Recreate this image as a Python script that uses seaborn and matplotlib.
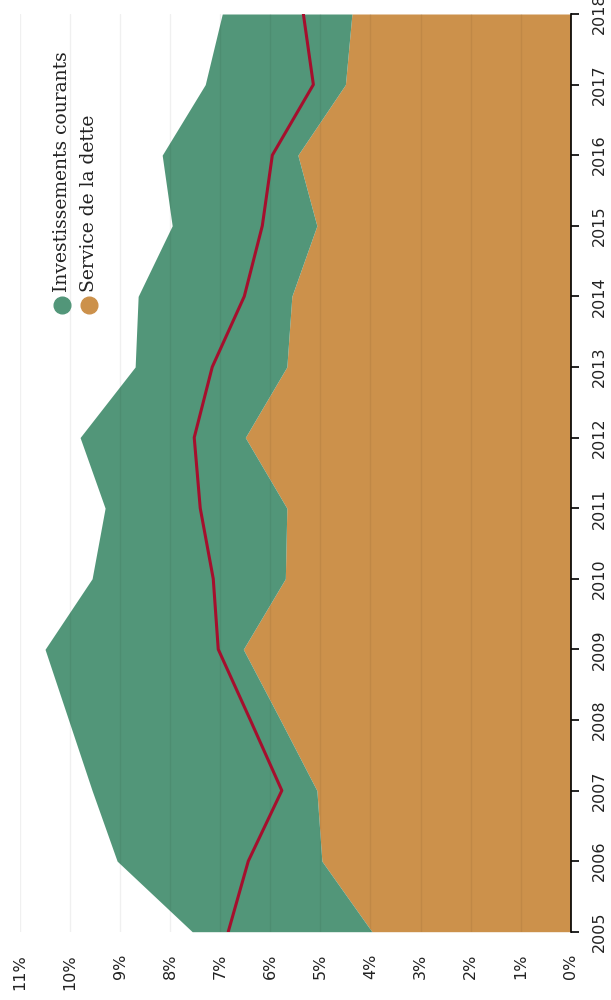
import numpy as np
import seaborn as sns
import matplotlib.pyplot as plt
from matplotlib.lines import Line2D

## Data (values in %)...
years = [2005, 2006, 2007, 2008, 2009, 2010, 2011, 2012, 2013, 2014, 2015, 2016, 2017, 2018]
service_dette = [3.97, 4.97, 5.07, 5.80, 6.54, 5.70, 5.67, 6.50, 5.67, 5.57, 5.07, 5.45, 4.50, 4.37]
invest_courants = [3.59, 4.09, 4.49, 4.23, 3.96, 3.86, 3.63, 3.30, 3.03, 3.07, 2.89, 2.71, 2.80, 2.59]
ligne_rouge = [6.84, 6.44, 5.77, 6.40, 7.04, 7.14, 7.40, 7.52, 7.16, 6.52, 6.16, 5.96, 5.14, 5.34]
pct_ticks = list(range(0, 12))

green = "#529679"
orange = "#cc914b"
red = "#a50f2d"

sns.set_theme(style="white")
plt.rcParams['font.family'] = ['DejaVu Sans']

fig = plt.figure(figsize=(6.11, 10), dpi=100)
W, H = 611, 1000
ax = fig.add_axes([20 / W, 1 - 931.7 / H, (570.7 - 20) / W, (931.7 - 14) / H])

## Stacked areas, drawn sideways (years on the vertical axis)...
base = np.zeros(len(years))
top1 = base + np.array(service_dette)
top2 = top1 + np.array(invest_courants)
ax.fill_betweenx(years, base, top1, color=orange, linewidth=0, zorder=1)
ax.fill_betweenx(years, top1, top2, color=green, linewidth=0, zorder=1)

sns.lineplot(x=ligne_rouge, y=years, orient="y", sort=False, color=red,
             linewidth=2.2, ax=ax, zorder=3)

ax.set_xlim(11, 0)
ax.set_ylim(2005, 2018)

## Grid lines on top, very faint...
ax.set_xticks(pct_ticks)
ax.set_xticklabels([f"{p}%" for p in pct_ticks])
for p in pct_ticks:
    ax.axvline(p, color="black", alpha=0.06, linewidth=1, zorder=2)

ax.set_yticks(years)
ax.set_yticklabels([str(y) for y in years])
ax.yaxis.tick_right()

for s in ["top", "left", "bottom"]:
    ax.spines[s].set_visible(False)
ax.spines["right"].set_color("black")
ax.spines["right"].set_linewidth(1.2)

ax.tick_params(axis="y", which="both", right=True, left=False, direction="out",
               length=6, width=1.2, color="black", pad=9, labelsize=11.5,
               labelcolor="#222222")
ax.tick_params(axis="x", bottom=False, pad=10, labelsize=11.5, labelcolor="#222222")
for t in ax.get_yticklabels():
    t.set_rotation(90)
    t.set_va("center")
    t.set_ha("left")
for t in ax.get_xticklabels():
    t.set_rotation(90)
    t.set_ha("center")
    t.set_va("top")

## Legend, rotated like the rest of the chart...
legend_items = [("Investissements courants", green, 62), ("Service de la dette", orange, 89)]
for label, col, px in legend_items:
    fig.add_artist(Line2D([px / W], [1 - 305 / H], marker="o", markersize=12,
                          color=col, linestyle="none", transform=fig.transFigure))
    fig.text(px / W, 1 - 292 / H, label, rotation=90, ha="center", va="bottom",
             fontsize=13.5, family="DejaVu Serif", color="#222222")

fig.savefig("out.png", dpi=100)
plt.close(fig)
